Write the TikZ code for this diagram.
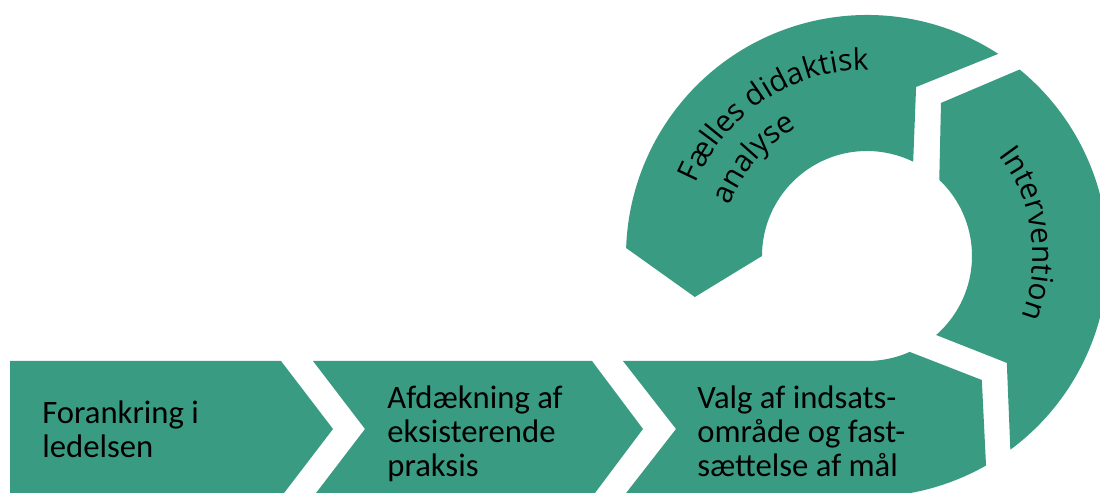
\documentclass[tikz,border=0pt]{standalone}
\usepackage{fontspec}
\setmainfont{Carlito}
\newfontfamily\ringfamily{Open Sans}
\usetikzlibrary{decorations.text}
\definecolor{stageGreen}{RGB}{58,155,131}
\newcommand\ringfont{\ringfamily\fontsize{17}{20}\selectfont}
\tikzset{
    stage/.style={fill=stageGreen, draw=none},
    stage text/.style={anchor=west, align=left, inner sep=0pt, font=\fontsize{18.6}{19.3}\selectfont},
    ring text/.style={decorate, decoration={text along path, text align=#1}},
    ring text/.default=left
}
\def\rin{105}
\def\rout{241}

\begin{document}
\begin{tikzpicture}[x=0.02cm, y=0.02cm]
    \useasboundingbox (0,0) rectangle (1100,493);
    \clip (0,0) rectangle (1100,493);

    % Draw the row of chevrons
    \draw[stage] (10,132) -- (281,132) -- (333,64) -- (281,-4) -- (10,-4) -- cycle;
    \draw[stage] (313,132) -- (592,132) -- (643,64) -- (592,-4) -- (313,-4) -- (365,64) -- cycle;

    % Draw the ring round its centre
    \begin{scope}[shift={(867,237)}]
        \draw[stage] (-244,-105) -- (0,-105) arc[start angle=-90, end angle=-66, radius=\rin]
                     -- (-47.2:169) -- (-60.4:\rout) arc[start angle=-60.4, end angle=-90, radius=\rout]
                     -- (-244,-241) -- (-191,-173) -- cycle;
        \draw[stage] (-48.8:\rin) -- (-37.4:176) -- (-53.5:\rout)
                     arc[start angle=-53.5, end angle=50.7, radius=\rout]
                     -- (64.2:170) -- (46.5:\rin) arc[start angle=46.5, end angle=-48.8, radius=\rin] -- cycle;
        \draw[stage] (57:\rout) arc[start angle=57, end angle=178.1, radius=\rout]
                     -- (193.4:177) -- (180:\rin) arc[start angle=180, end angle=63.9, radius=\rin]
                     -- (73.8:176) -- cycle;

        \path[ring text, decoration={text={|\ringfont|Fælles didaktisk}}]
            (157:186) arc[start angle=157, end angle=60, radius=186];
        \path[ring text, decoration={text={|\ringfont|analyse}}]
            (160:146) arc[start angle=160, end angle=80, radius=146];
        \path[ring text=center, decoration={text={|\ringfont|Intervention}}]
            (58:166) arc[start angle=58, end angle=-42, radius=166];
    \end{scope}

    \node[stage text] (forankring) at (42,64) {Forankring i\\ledelsen};
    \node[stage text] (afdaekning) at (387,59) {Afdækning af\\eksisterende\\praksis};
    \node[stage text] (valg) at (697,62) {Valg af indsats-\\område og fast-\\sættelse af mål};
\end{tikzpicture}
\end{document}
